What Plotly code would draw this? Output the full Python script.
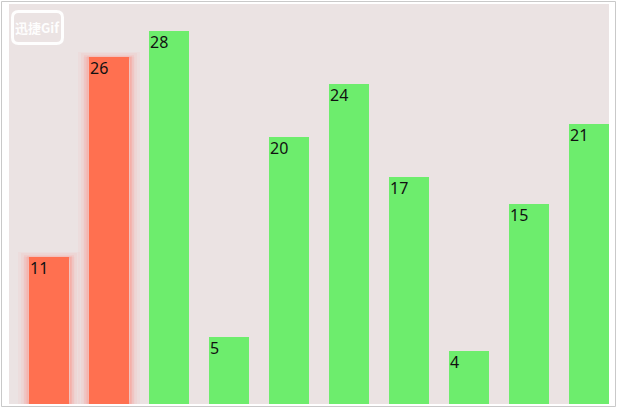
import plotly.graph_objects as go

categories = list(range(10))
values = [11, 26, 28, 5, 20, 24, 17, 4, 15, 21]
bar_colors = ["#ff7050", "#ff7050", "#6ded6d", "#6ded6d", "#6ded6d",
              "#6ded6d", "#6ded6d", "#6ded6d", "#6ded6d", "#6ded6d"]
glow = [True, True, False, False, False, False, False, False, False, False]

W, H = 617, 409
L, R, T, B = 9, 8, 4, 5
PW, PH = W - L - R, H - T - B


def px(x):
    return (x - L) / PW


def py(y):
    return 1 - (y - T) / PH


BAR_W = 2 / 3
fig = go.Figure()

# soft glow behind highlighted bars
glow_x = [c for c, g in zip(categories, glow) if g]
glow_y = [v for v, g in zip(values, glow) if g]
for extra, alpha, lw in [(0.19, 0.06, 10), (0.15, 0.08, 7), (0.10, 0.11, 4), (0.05, 0.15, 2)]:
    fig.add_trace(go.Bar(
        x=glow_x, y=glow_y, width=BAR_W + extra,
        marker=dict(color=f"rgba(255,140,130,{alpha})",
                    line=dict(width=lw, color=f"rgba(255,140,130,{alpha})")),
        opacity=1, hoverinfo="skip", showlegend=False,
    ))

fig.add_trace(go.Bar(
    x=categories, y=values, width=BAR_W,
    marker=dict(color=bar_colors, line=dict(width=0)),
    opacity=1, showlegend=False,
))

for c, v in zip(categories, values):
    fig.add_annotation(
        x=c - BAR_W / 2, y=v, xref="x", yref="y",
        text=str(v), showarrow=False, xanchor="left", yanchor="top",
        xshift=-1, yshift=2,
        font=dict(family="Noto Sans", size=16, color="#111111"),
    )

# watermark
x0, y0, x1, y1, r = 12.5, 11.5, 62.5, 43.5, 6
pts = [
    f"M {px(x0 + r)},{py(y0)}", f"L {px(x1 - r)},{py(y0)}",
    f"Q {px(x1)},{py(y0)} {px(x1)},{py(y0 + r)}", f"L {px(x1)},{py(y1 - r)}",
    f"Q {px(x1)},{py(y1)} {px(x1 - r)},{py(y1)}", f"L {px(x0 + r)},{py(y1)}",
    f"Q {px(x0)},{py(y1)} {px(x0)},{py(y1 - r)}", f"L {px(x0)},{py(y0 + r)}",
    f"Q {px(x0)},{py(y0)} {px(x0 + r)},{py(y0)}", "Z",
]
fig.add_shape(type="path", path=" ".join(pts), xref="paper", yref="paper",
              line=dict(color="rgba(255,255,255,0.95)", width=3))
fig.add_annotation(
    x=px(37.5), y=py(27.5), xref="paper", yref="paper",
    text="<b>迅捷Gif</b>", showarrow=False, xanchor="center", yanchor="middle",
    font=dict(family="Noto Sans CJK SC", size=13, color="rgba(255,255,255,0.95)"),
)

# outer border
fig.add_shape(type="rect", xref="paper", yref="paper",
              x0=px(1.5), x1=px(615.5), y0=py(406.5), y1=py(1.5),
              line=dict(color="#c9c9c9", width=1), layer="below")

fig.update_layout(
    width=W, height=H,
    margin=dict(l=L, r=R, t=T, b=B, pad=0),
    paper_bgcolor="#ffffff",
    plot_bgcolor="#ebe3e3",
    barmode="overlay",
    bargap=0,
    xaxis=dict(range=[-2 / 3, 9 + 1 / 3], visible=False, fixedrange=True),
    yaxis=dict(range=[0, 30], visible=False, fixedrange=True),
)

fig.write_html(
    "out.html",
    config={"displayModeBar": False},
    post_script="document.body.style.margin='0';document.body.style.overflow='hidden';",
)
